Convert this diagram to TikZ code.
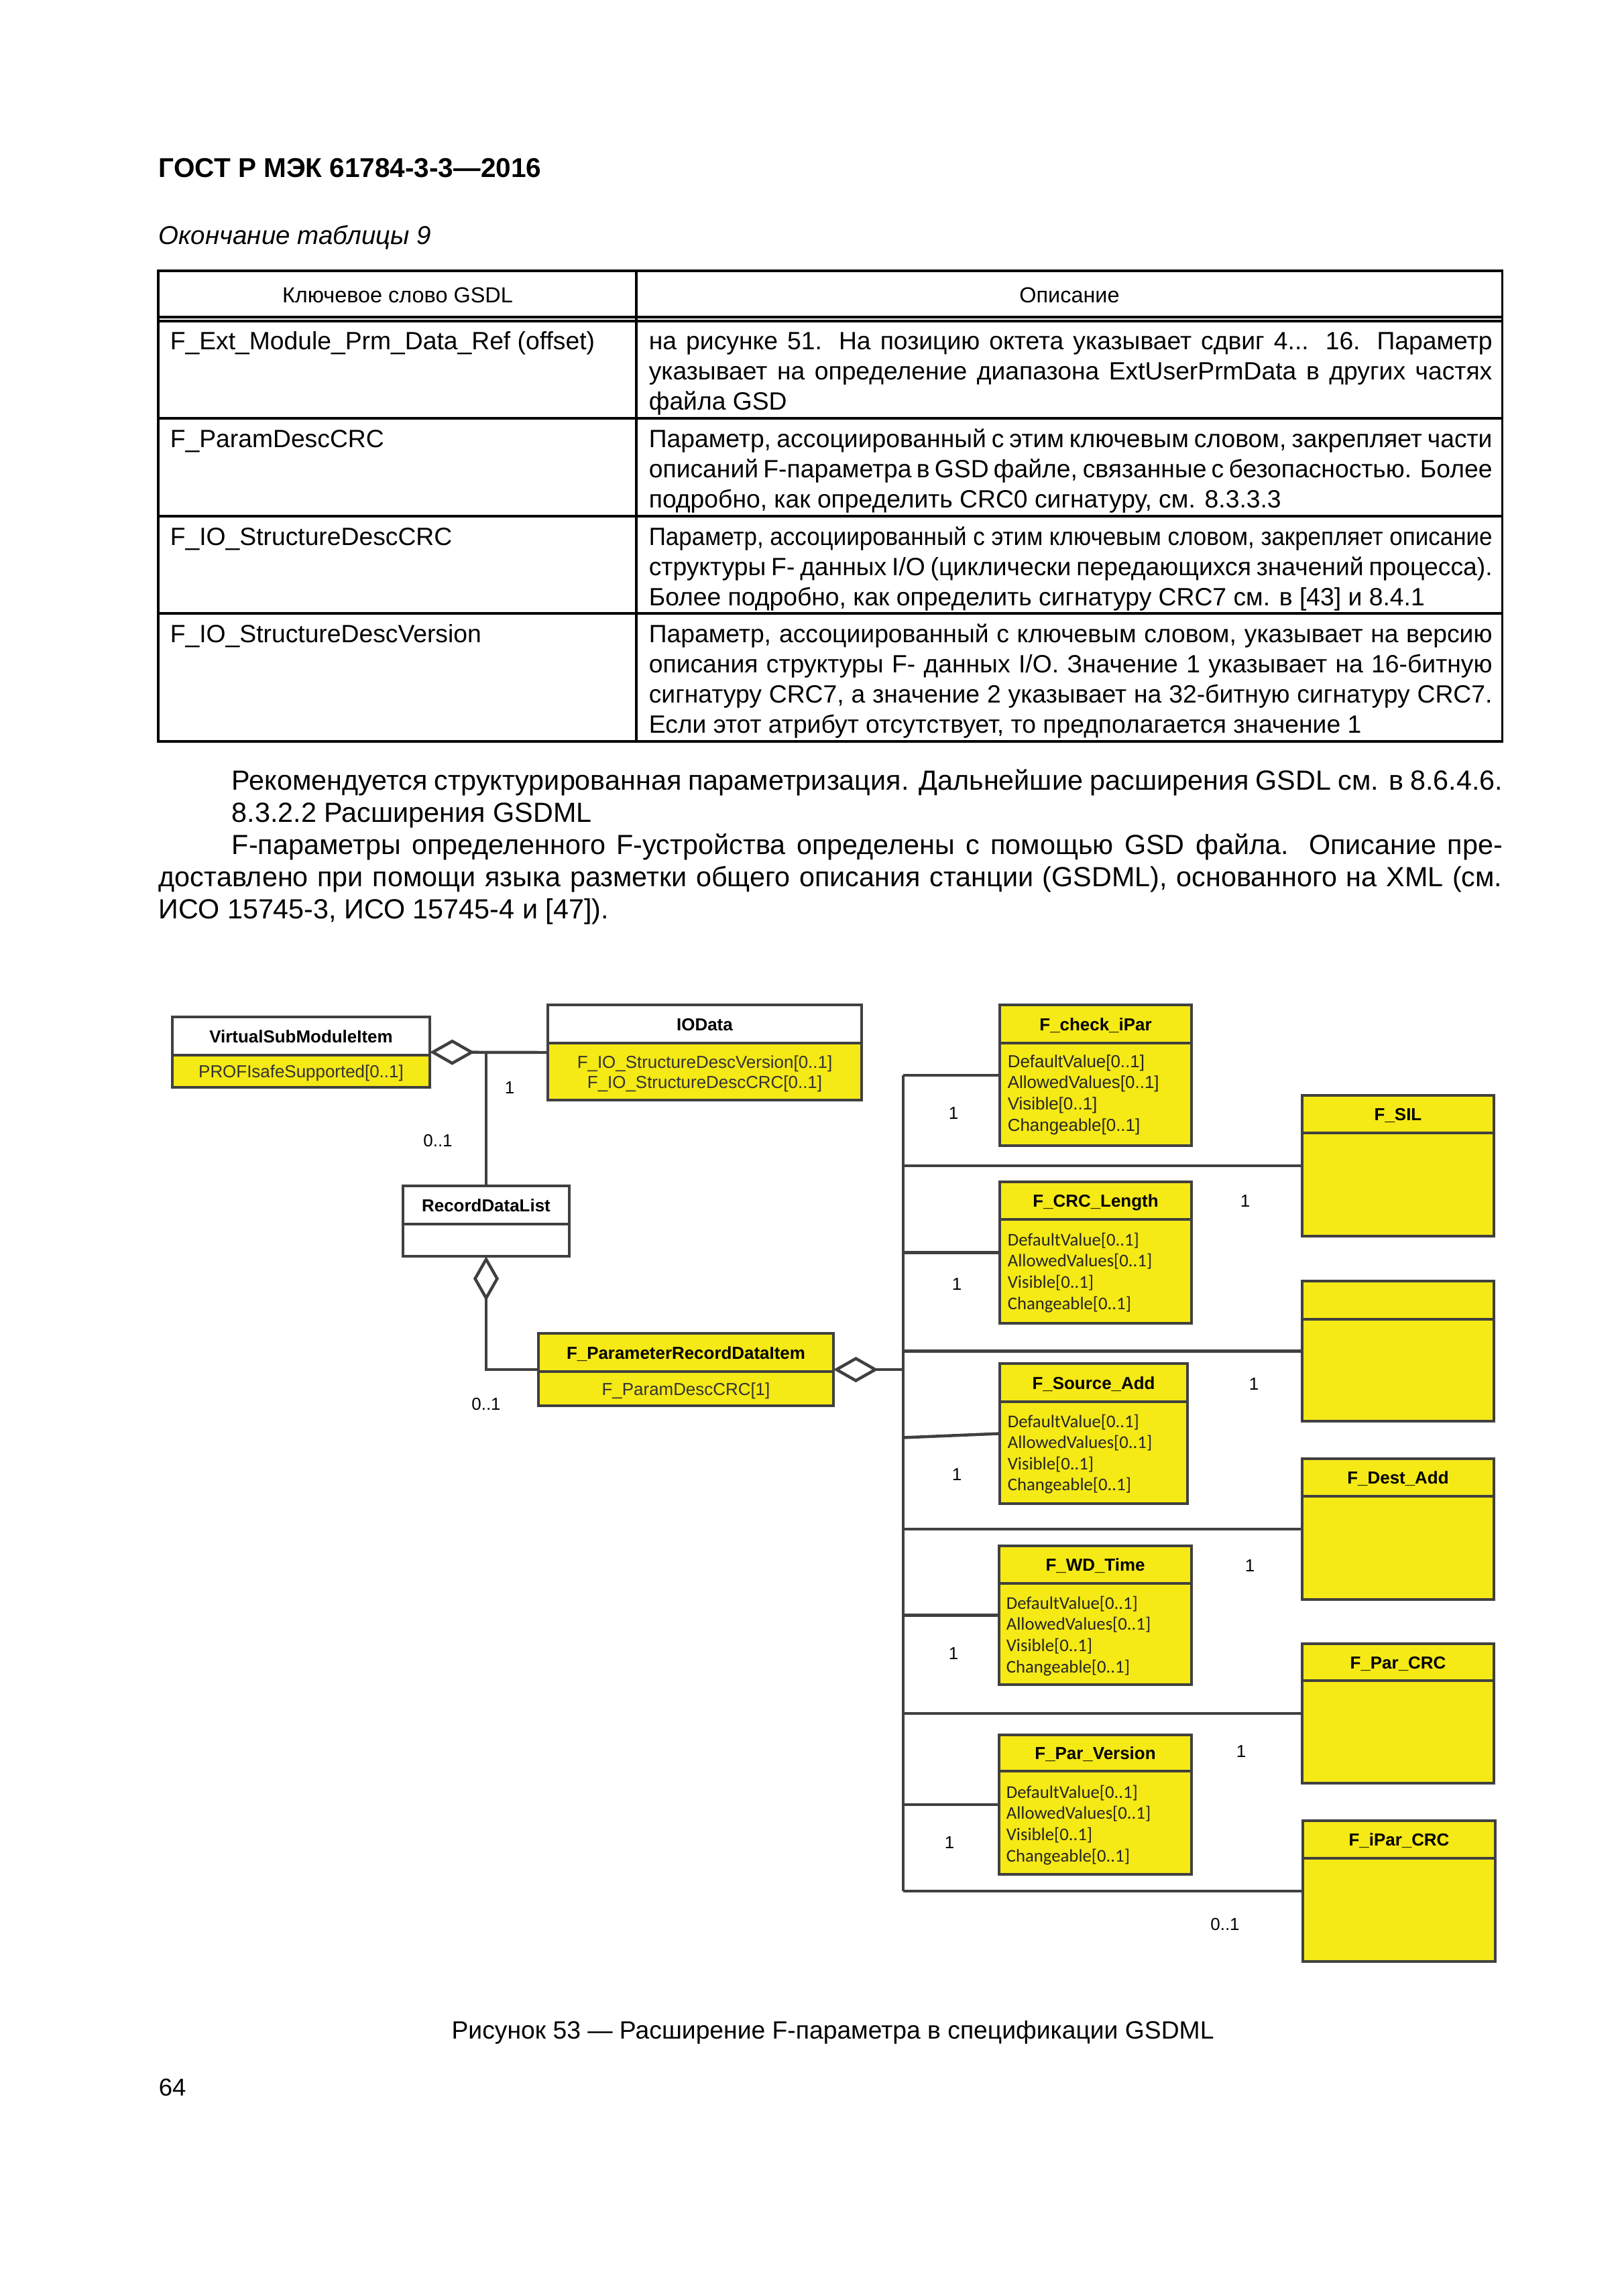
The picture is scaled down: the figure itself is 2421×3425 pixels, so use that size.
\documentclass[tikz,border=0pt]{standalone}
\usepackage{fontspec}
\usepackage{graphicx}
\setmainfont{Liberation Sans}
\newfontfamily\calibrifont{Carlito}
\usetikzlibrary{arrows.meta,calc}

\definecolor{umlyellow}{RGB}{245,233,22}
\definecolor{umlgray}{RGB}{64,64,64}
\newcommand{\pxu}{0.08674mm}
\newcommand{\jbox}[2]{\makebox[#1][s]{#2}}
\newcommand{\sqbox}[2]{\resizebox{#1}{\height}{#2}}

\tikzset{
  umlframe/.style={draw=umlgray, line width=1.1pt, inner sep=0pt, outer sep=0pt, anchor=north west},
  umlline/.style={draw=umlgray, line width=1.1pt},
  umltitle/.style={font=\fontsize{6.4}{7.8}\selectfont\bfseries, inner sep=0pt, anchor=base},
  attr/.style={font=\fontsize{6.4}{7.8}\selectfont, text=black!85, inner sep=0pt, anchor=base west},
  attrc/.style={font=\calibrifont\fontsize{6.6}{7.8}\selectfont, text=black!85, inner sep=0pt, anchor=base west},
  attrmid/.style={font=\fontsize{6.4}{7.8}\selectfont, text=black!80, inner sep=0pt, anchor=base},
  mult/.style={font=\fontsize{6.4}{7.8}\selectfont, inner sep=0pt},
  aggr/.style={{Diamond[open,length=5.8mm,width=3.3mm]}-},
  tabline/.style={line width=0.75pt},
  bodytext/.style={font=\fontsize{10.2}{12}\selectfont, inner sep=0pt, anchor=base west},
  celltext/.style={font=\fontsize{9.2}{11}\selectfont, inner sep=0pt, anchor=base west},
  headtext/.style={font=\fontsize{8}{10}\selectfont, inner sep=0pt, anchor=base},
}

\newcommand{\umlclass}[9]{%
  % name, left, top, divider, right, bottom, head fill, body fill, title
  \fill[#7] (#2,#3) rectangle (#5,#4);
  \fill[#8] (#2,#4) rectangle (#5,#6);
  \node[umlframe, minimum width={(#5-#2)*\pxu}, minimum height={(#6-#3)*\pxu}] (#1) at (#2,#3) {};
  \draw[umlline] (#2,#4) -- (#5,#4);
  \node[umltitle] (#1-title) at ({(#2+#5)/2},{(#3+#4)/2+9.5}) {#9};
}
\newcommand{\textlines}[6]{%
  % name, style, x, first baseline, line step, lines
  \foreach \t [count=\i from 0] in {#6}{%
    \node[#2] (#1-\i) at (#3,{#4+\i*#5}) {\t};
  }
}

\begin{document}
\begin{tikzpicture}[x=0.08674mm,y=-0.08674mm]
  \fill[white] (0,0) rectangle (2421,3425);
  \useasboundingbox (0,0) rectangle (2421,3425);

  % page head
  \node[anchor=base west, inner sep=0pt, font=\fontsize{10}{12}\selectfont\bfseries] (gost) at (236,264) {ГОСТ Р МЭК 61784-3-3—2016};
  \node[anchor=base west, inner sep=0pt, font=\fontsize{9.5}{12}\selectfont\itshape] (tabcont) at (236,364) {Окончание таблицы 9};

  % table 9 (end)
  \draw[tabline] (236,404) rectangle (2240,1106);
  \draw[tabline] (949,404) -- (949,1106);
  \foreach \y in {473,479,624,770,915} \draw[tabline] (236,\y) -- (2240,\y);
  \node[headtext] (hkey) at (593,451) {Ключевое слово GSDL};
  \node[headtext] (hdesc) at (1595,451) {Описание};

  \node[celltext] (k1) at (253,521) {F\_Ext\_Module\_Prm\_Data\_Ref (offset)};
  \node[celltext] (k2) at (253,667) {F\_ParamDescCRC};
  \node[celltext] (k3) at (253,813) {F\_IO\_StructureDescCRC};
  \node[celltext] (k4) at (253,958) {F\_IO\_StructureDescVersion};

  \textlines{d1}{celltext}{967}{521}{45}{%
    {\jbox{109.1mm}{на рисунке 51. На позицию октета указывает сдвиг 4... 16. Параметр}},
    {\jbox{109.1mm}{указывает на определение диапазона ExtUserPrmData в других частях}},
    {файла GSD}}
  \textlines{d2}{celltext}{967}{667}{45}{%
    {\jbox{109.1mm}{Параметр, ассоциированный с этим ключевым словом, закрепляет части}},
    {\jbox{109.1mm}{описаний F-параметра в GSD файле, связанные с безопасностью. Более}},
    {подробно, как определить CRC0 сигнатуру, см. 8.3.3.3}}
  \textlines{d3}{celltext}{967}{813}{45}{%
    {\sqbox{109.1mm}{Параметр, ассоциированный с этим ключевым словом, закрепляет описание}},
    {\jbox{109.1mm}{структуры F- данных I/O (циклически передающихся значений процесса).}},
    {Более подробно, как определить сигнатуру CRC7 см. в [43] и 8.4.1}}
  \textlines{d4}{celltext}{967}{958}{45}{%
    {\jbox{109.1mm}{Параметр, ассоциированный с ключевым словом, указывает на версию}},
    {\jbox{109.1mm}{описания структуры F- данных I/O. Значение 1 указывает на 16-битную}},
    {\jbox{109.1mm}{сигнатуру CRC7, а значение 2 указывает на 32-битную сигнатуру CRC7.}},
    {Если этот атрибут отсутствует, то предполагается значение 1}}

  % running text
  \textlines{p1}{bodytext}{345}{1178}{48}{%
    {\jbox{164.4mm}{Рекомендуется структурированная параметризация. Дальнейшие расширения GSDL см. в 8.6.4.6.}},
    {8.3.2.2 Расширения GSDML},
    {\jbox{164.4mm}{F-параметры определенного F-устройства определены с помощью GSD файла. Описание пре-}}}
  \textlines{p2}{bodytext}{236}{1322}{48}{%
    {\jbox{173.8mm}{доставлено при помощи языка разметки общего описания станции (GSDML), основанного на XML (см.}},
    {ИСО 15745-3, ИСО 15745-4 и [47]).}}

  % figure 53: classes
  \umlclass{vsm}{257}{1517}{1574}{641}{1622}{white}{umlyellow}{VirtualSubModuleItem}
  \umlclass{io}{817}{1499}{1556}{1285}{1641}{white}{umlyellow}{IOData}
  \umlclass{rdl}{601}{1769}{1826}{849}{1874}{white}{white}{RecordDataList}
  \umlclass{prdi}{803}{1989}{2046}{1243}{2097}{umlyellow}{umlyellow}{F\_ParameterRecordDataItem}
  \umlclass{chk}{1491}{1499}{1556}{1777}{1709}{umlyellow}{umlyellow}{F\_check\_iPar}
  \umlclass{crc}{1491}{1763}{1819}{1777}{1974}{umlyellow}{umlyellow}{F\_CRC\_Length}
  \umlclass{src}{1491}{2034}{2091}{1771}{2243}{umlyellow}{umlyellow}{F\_Source\_Add}
  \umlclass{wd}{1490}{2306}{2362}{1777}{2513}{umlyellow}{umlyellow}{F\_WD\_Time}
  \umlclass{parver}{1490}{2588}{2642}{1777}{2796}{umlyellow}{umlyellow}{F\_Par\_Version}
  \umlclass{sil}{1942}{1634}{1690}{2228}{1844}{umlyellow}{umlyellow}{F\_SIL}
  \umlclass{blank}{1942}{1911}{1968}{2228}{2120}{umlyellow}{umlyellow}{}
  \umlclass{dest}{1942}{2176}{2232}{2228}{2386}{umlyellow}{umlyellow}{F\_Dest\_Add}
  \umlclass{parcrc}{1942}{2452}{2507}{2228}{2660}{umlyellow}{umlyellow}{F\_Par\_CRC}
  \umlclass{ipar}{1943}{2716}{2772}{2230}{2926}{umlyellow}{umlyellow}{F\_iPar\_CRC}

  % attributes
  \node[attrmid] (vsm-a) at (449,1607) {PROFIsafeSupported[0..1]};
  \node[attrmid] (io-a1) at (1051,1593) {F\_IO\_StructureDescVersion[0..1]};
  \node[attrmid] (io-a2) at (1051,1623) {F\_IO\_StructureDescCRC[0..1]};
  \node[attrmid] (prdi-a) at (1023,2081) {F\_ParamDescCRC[1]};
  \textlines{chk-a}{attr}{1502}{1592}{31.7}{DefaultValue[0..1],AllowedValues[0..1],Visible[0..1],Changeable[0..1]}
  \textlines{crc-a}{attrc}{1502}{1858}{31.7}{DefaultValue[0..1],AllowedValues[0..1],Visible[0..1],Changeable[0..1]}
  \textlines{src-a}{attrc}{1502}{2129}{31.5}{DefaultValue[0..1],AllowedValues[0..1],Visible[0..1],Changeable[0..1]}
  \textlines{wd-a}{attrc}{1500}{2400}{31.7}{DefaultValue[0..1],AllowedValues[0..1],Visible[0..1],Changeable[0..1]}
  \textlines{parver-a}{attrc}{1500}{2682}{31.7}{DefaultValue[0..1],AllowedValues[0..1],Visible[0..1],Changeable[0..1]}

  % associations
  \coordinate (bus) at (1347,0);
  \draw[umlline, aggr] (vsm.east) -- (io.west);
  \draw[umlline] (rdl.north |- io.west) -- (rdl.north);
  \draw[umlline, aggr] (rdl.south) |- (prdi.west);
  \draw[umlline, aggr] (prdi.east) -- (prdi.east -| bus);
  \draw[umlline] (chk.west -| bus) -- (ipar.west -| bus);
  \foreach \b in {chk,sil,crc,blank,dest,wd,parcrc,parver,ipar}
    \draw[umlline] (\b.west -| bus) -- (\b.west);
  \draw[umlline] ($(src.west -| bus)+(0,6)$) -- (src.west);

  % multiplicities
  \node[mult] (m-io) at (760,1623) {1};
  \node[mult] (m-vsm) at (653,1702) {0..1};
  \node[mult] (m-prdi) at (725,2095) {0..1};
  \foreach \n/\x/\y in {chk/1422/1661,crc/1427/1916,src/1427/2200,wd/1422/2467,parver/1416/2749}
    \node[mult] (m-\n) at (\x,\y) {1};
  \foreach \n/\x/\y in {sil/1857/1792,blank/1870/2065,dest/1864/2336,parcrc/1851/2613}
    \node[mult] (m-\n) at (\x,\y) {1};
  \node[mult] (m-ipar) at (1827,2871) {0..1};

  % caption and page number
  \node[anchor=base, inner sep=0pt, font=\fontsize{9.2}{11}\selectfont] (caption) at (1242,3041) {Рисунок 53 — Расширение F-параметра в спецификации GSDML};
  \node[anchor=base west, inner sep=0pt, font=\fontsize{9}{11}\selectfont] (pageno) at (236,3126) {64};
\end{tikzpicture}
\end{document}
